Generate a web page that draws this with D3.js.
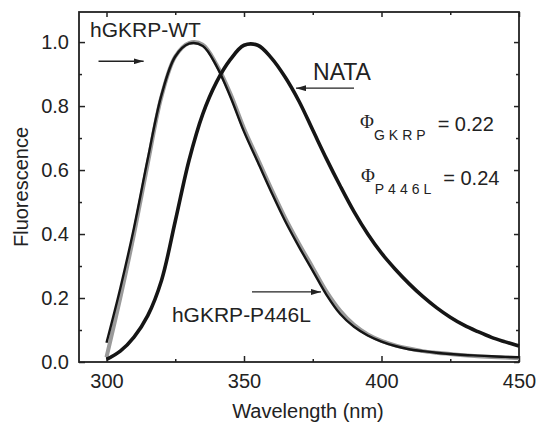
<!DOCTYPE html>
<html>
<head>
<meta charset="utf-8">
<script src="https://cdn.jsdelivr.net/npm/d3@7"></script>
<style>
  body { margin: 0; background: #fff; }
  text { font-family: "Liberation Sans", Arial, sans-serif; fill: #222; }
</style>
</head>
<body>
<div id="graph"></div>
<script>
var wavelength = [300, 305, 310, 315, 320, 325, 330, 335, 340, 345, 350, 355, 360, 365, 370,
                  375, 380, 385, 390, 395, 400, 405, 410, 415, 420, 425, 430, 435, 440, 445, 450];
var nata =  [0.008, 0.034, 0.078, 0.145, 0.255, 0.44, 0.63, 0.775, 0.875, 0.945, 0.99, 0.99, 0.95, 0.89, 0.815,
             0.725, 0.635, 0.55, 0.47, 0.40, 0.34, 0.29, 0.245, 0.205, 0.17, 0.14, 0.115, 0.095, 0.077, 0.063, 0.05];
var wt =    [0.015, 0.20, 0.40, 0.62, 0.83, 0.955, 0.997, 0.992, 0.93, 0.84, 0.73, 0.635, 0.54, 0.45, 0.37,
             0.295, 0.22, 0.16, 0.116, 0.086, 0.066, 0.052, 0.042, 0.034, 0.029, 0.025, 0.021, 0.018, 0.016, 0.014, 0.012];
var p446l = [0.06, 0.23, 0.42, 0.635, 0.835, 0.955, 0.995, 0.988, 0.925, 0.83, 0.72, 0.625, 0.53, 0.44, 0.36,
             0.285, 0.21, 0.15, 0.11, 0.083, 0.064, 0.05, 0.04, 0.034, 0.029, 0.025, 0.022, 0.02, 0.018, 0.016, 0.015];
var xTicks = [300, 350, 400, 450];
var yTicks = [0.0, 0.2, 0.4, 0.6, 0.8, 1.0];

var width = 538, height = 427;
var pLeft = 79, pRight = 519, pTop = 12, pBottom = 362;

var svg = d3.select("#graph").append("svg")
    .attr("width", width)
    .attr("height", height);

var x = d3.scaleLinear().domain([290, 450]).range([pLeft, pRight]);
var y = d3.scaleLinear().domain([0, 1.094]).range([pBottom, pTop]);

var xMinor = [325, 375, 425];
var yMinor = [0.1, 0.3, 0.5, 0.7, 0.9];

// axes, ticks pointing inward on all four sides
svg.append("g").attr("transform", "translate(0," + pBottom + ")")
    .call(d3.axisBottom(x).tickValues(xTicks).tickSize(-6).tickPadding(12).tickFormat(d3.format("d")));
svg.append("g").attr("transform", "translate(0," + pBottom + ")")
    .call(d3.axisBottom(x).tickValues(xMinor).tickSize(-3).tickFormat(""));
svg.append("g").attr("transform", "translate(0," + pTop + ")")
    .call(d3.axisTop(x).tickValues(xTicks).tickSize(-5).tickFormat(""));
svg.append("g").attr("transform", "translate(0," + pTop + ")")
    .call(d3.axisTop(x).tickValues(xMinor).tickSize(-3).tickFormat(""));
svg.append("g").attr("transform", "translate(" + pLeft + ",0)")
    .call(d3.axisLeft(y).tickValues(yTicks).tickSize(-6).tickPadding(10).tickFormat(d3.format(".1f")));
svg.append("g").attr("transform", "translate(" + pLeft + ",0)")
    .call(d3.axisLeft(y).tickValues(yMinor).tickSize(-3).tickFormat(""));
svg.append("g").attr("transform", "translate(" + pRight + ",0)")
    .call(d3.axisRight(y).tickValues(yTicks).tickSize(-5).tickFormat(""));
svg.append("g").attr("transform", "translate(" + pRight + ",0)")
    .call(d3.axisRight(y).tickValues(yMinor).tickSize(-3).tickFormat(""));

svg.selectAll(".domain").remove();
svg.selectAll(".tick line").attr("stroke", "#222").attr("stroke-width", 1.5);
svg.selectAll(".tick text")
    .attr("font-size", 20)
    .attr("font-family", "Liberation Sans, Arial, sans-serif")
    .attr("fill", "#222");

svg.append("rect")
    .attr("x", pLeft).attr("y", pTop)
    .attr("width", pRight - pLeft).attr("height", pBottom - pTop)
    .attr("fill", "none").attr("stroke", "#222").attr("stroke-width", 1.8);

// curves
var line = function(vals) {
    return d3.line()
        .x(function(d, i) { return x(wavelength[i]); })
        .y(function(d) { return y(d); })
        .curve(d3.curveCatmullRom)(vals);
};

svg.append("path").attr("d", line(wt))
    .attr("fill", "none").attr("stroke", "#9a9a9a").attr("stroke-width", 4);
svg.append("path").attr("d", line(p446l))
    .attr("fill", "none").attr("stroke", "#151515").attr("stroke-width", 2.4);
svg.append("path").attr("d", line(nata))
    .attr("fill", "none").attr("stroke", "#151515").attr("stroke-width", 3.6);

// arrows
svg.append("defs").append("marker")
    .attr("id", "head")
    .attr("viewBox", "0 0 10 6")
    .attr("refX", 10).attr("refY", 3)
    .attr("markerWidth", 10).attr("markerHeight", 6)
    .attr("markerUnits", "userSpaceOnUse")
    .attr("orient", "auto")
    .append("path").attr("d", "M0,0L10,3L0,6Z").attr("fill", "#222");

var arrows = [
    {x1: 297.1, x2: 313.5, y: 0.94},
    {x1: 390, x2: 368.9, y: 0.856},
    {x1: 352.9, x2: 378, y: 0.219}
];
svg.selectAll(".arrow").data(arrows).enter().append("line")
    .attr("class", "arrow")
    .attr("x1", function(d) { return x(d.x1); })
    .attr("x2", function(d) { return x(d.x2); })
    .attr("y1", function(d) { return y(d.y); })
    .attr("y2", function(d) { return y(d.y); })
    .attr("stroke", "#222").attr("stroke-width", 1.3)
    .attr("marker-end", "url(#head)");

// labels
var labels = [
    {text: "hGKRP-WT", x: 294, y: 1.016, size: 21},
    {text: "NATA", x: 375.1, y: 0.881, size: 23},
    {text: "hGKRP-P446L", x: 323.8, y: 0.125, size: 21}
];
svg.selectAll(".lab").data(labels).enter().append("text")
    .attr("class", "lab")
    .attr("x", function(d) { return x(d.x); })
    .attr("y", function(d) { return y(d.y); })
    .attr("font-size", function(d) { return d.size; })
    .text(function(d) { return d.text; });

var yields = [
    {sub: "GKRP", val: "= 0.22", x: 392.2, y: 0.731},
    {sub: "P446L", val: "= 0.24", x: 392.5, y: 0.5625}
];
yields.forEach(function(q) {
    var t = svg.append("text")
        .attr("x", x(q.x))
        .attr("y", y(q.y));
    t.append("tspan")
        .attr("font-family", "Liberation Serif, Times New Roman, serif")
        .attr("font-size", 19)
        .text("\u03A6");
    t.append("tspan")
        .attr("font-size", 14)
        .attr("dy", 12)
        .attr("letter-spacing", 4)
        .text(q.sub);
    t.append("tspan")
        .attr("font-size", 20)
        .attr("dy", -9)
        .attr("dx", 8)
        .text(q.val);
});

svg.append("text")
    .attr("x", 308).attr("y", 418)
    .attr("text-anchor", "middle")
    .attr("font-size", 20)
    .text("Wavelength (nm)");

svg.append("text")
    .attr("transform", "translate(28," + ((pTop + pBottom) / 2) + ") rotate(-90)")
    .attr("text-anchor", "middle")
    .attr("font-size", 20)
    .text("Fluorescence");
</script>
</body>
</html>
